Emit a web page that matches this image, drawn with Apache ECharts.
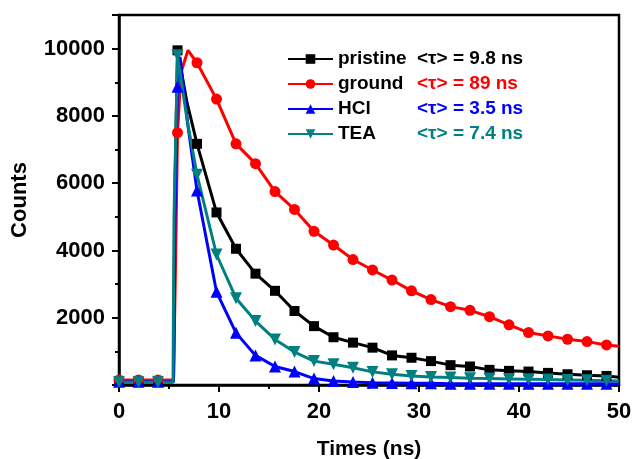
<!DOCTYPE html>
<html>
<head>
<meta charset="utf-8">
<script src="https://cdn.jsdelivr.net/npm/echarts@6/dist/echarts.min.js"></script>
<style>html,body{margin:0;padding:0;background:#fff}#c{width:633px;height:459px}</style>
</head>
<body>
<div id="c"></div>
<script>
// Times (ns) of the marker points
const markerT = [0, 1.95, 3.9, 5.85, 7.8, 9.75, 11.7, 13.65, 15.6, 17.55, 19.5, 21.45, 23.4, 25.35, 27.3, 29.25, 31.2, 33.15, 35.1, 37.05, 39, 40.95, 42.9, 44.85, 46.8, 48.75];

// Marker values (counts)
const pristineV = [100, 100, 100, 9950, 7170, 5130, 4050, 3310, 2800, 2200, 1750, 1420, 1260, 1110, 880, 810, 710, 590, 550, 450, 420, 400, 360, 320, 290, 270];
const groundV   = [150, 150, 150, 7500, 9580, 8500, 7170, 6580, 5750, 5220, 4570, 4160, 3730, 3420, 3120, 2800, 2540, 2330, 2220, 2030, 1790, 1560, 1460, 1360, 1290, 1190];
const hclV      = [100, 100, 100, 8870, 5780, 2770, 1550, 880, 550, 400, 190, 120, 90, 70, 60, 50, 50, 40, 40, 40, 40, 40, 40, 40, 40, 40];
const teaV      = [80, 80, 80, 9800, 6250, 3880, 2580, 1900, 1355, 980, 710, 615, 515, 390, 320, 270, 240, 220, 200, 190, 180, 170, 160, 150, 140, 130];

// Extra line points without markers (rise, peak, end)
const pristineExtraT = [5.45, 5.6, 6.8, 50];
const pristineExtraV = [100, 6000, 8400, 230];
const groundExtraT   = [5.45, 5.65, 6.2, 6.9, 50];
const groundExtraV   = [150, 3500, 9300, 9950, 1150];
const hclExtraT      = [5.45, 5.6, 6.1, 6.9, 50];
const hclExtraV      = [100, 5000, 9750, 7700, 40];
const teaExtraT      = [5.4, 5.5, 6.8, 50];
const teaExtraV      = [80, 5000, 7900, 120];

const names  = ['pristine', 'ground', 'HCl', 'TEA'];
const taus   = ['<τ> = 9.8 ns', '<τ> = 89 ns', '<τ> = 3.5 ns', '<τ> = 7.4 ns'];
const colors = ['#000000', '#ff0000', '#0000ff', '#008080'];
const symbols = ['rect', 'circle', 'triangle', 'path://M0,0 L10,0 L5,9 Z'];
const symSizes = [10, 11, 12, 12];

const xTicks = [0, 10, 20, 30, 40, 50];
const yTicks = [2000, 4000, 6000, 8000, 10000];

function build(markV, exT, exV) {
  const pts = [];
  markerT.forEach((t, i) => pts.push({ value: [t, markV[i]] }));
  exT.forEach((t, i) => pts.push({ value: [t, exV[i]], symbol: 'none' }));
  pts.sort((a, b) => a.value[0] - b.value[0]);
  return pts;
}
const dataSets = [
  build(pristineV, pristineExtraT, pristineExtraV),
  build(groundV, groundExtraT, groundExtraV),
  build(hclV, hclExtraT, hclExtraV),
  build(teaV, teaExtraT, teaExtraV)
];

const FF = 'Arial, "Liberation Sans", sans-serif';
const rich = { n: { width: 79, fontSize: 19, fontWeight: 'bold', color: '#000', fontFamily: FF, lineHeight: 20 } };
colors.forEach((c, i) => { rich['t' + i] = { color: c, fontSize: 19, fontWeight: 'bold', fontFamily: FF, lineHeight: 20 }; });

const chart = echarts.init(document.getElementById('c'), null, { renderer: 'canvas' });
chart.setOption({
  animation: false,
  backgroundColor: '#fff',
  grid: { left: 119, right: 14, top: 15, bottom: 74, containLabel: false, outerBoundsMode: 'none',
    show: true, borderColor: '#000', borderWidth: 2.5, backgroundColor: 'transparent' },
  legend: {
    orient: 'vertical', left: 282, top: 44, itemWidth: 45, itemHeight: 12, itemGap: 5,
    data: names,
    formatter: function (name) { const i = names.indexOf(name); return '{n|' + name + '}{t' + i + '|' + taus[i] + '}'; },
    textStyle: { fontSize: 19, fontWeight: 'bold', fontFamily: FF, color: '#000', lineHeight: 20, rich: rich }
  },
  xAxis: {
    type: 'value', min: 0, max: 50, interval: 10,
    name: 'Times (ns)', nameLocation: 'middle', nameGap: 54,
    nameTextStyle: { fontSize: 21, fontWeight: 'bold', fontFamily: FF, color: '#000' },
    axisLine: { lineStyle: { color: '#000', width: 2.5 } },
    axisTick: { show: true, inside: false, length: 7, lineStyle: { color: '#000', width: 2 } },
    minorTick: { show: true, splitNumber: 2, length: 4, lineStyle: { color: '#000', width: 2 } },
    splitLine: { show: false },
    axisLabel: { fontSize: 22, fontWeight: 'bold', fontFamily: FF, color: '#000', margin: 16,
      formatter: v => xTicks.includes(v) ? String(v) : '' }
  },
  yAxis: {
    type: 'value', min: 0, max: 11000, interval: 2000,
    name: 'Counts', nameLocation: 'middle', nameGap: 88, nameRotate: 90,
    nameTextStyle: { fontSize: 22, fontWeight: 'bold', fontFamily: FF, color: '#000' },
    axisLine: { show: true, lineStyle: { color: '#000', width: 2.5 } },
    axisTick: { show: true, inside: false, length: 7, lineStyle: { color: '#000', width: 2 } },
    minorTick: { show: true, splitNumber: 2, length: 4, lineStyle: { color: '#000', width: 2 } },
    splitLine: { show: false },
    axisLabel: { fontSize: 22, fontWeight: 'bold', fontFamily: FF, color: '#000', margin: 14,
      formatter: v => yTicks.includes(v) ? String(v) : '' }
  },
  series: names.map((n, i) => ({
    name: n, type: 'line', data: dataSets[i],
    symbol: symbols[i], symbolSize: symSizes[i], showSymbol: true,
    lineStyle: { color: colors[i], width: 3 },
    itemStyle: { color: colors[i] },
    clip: true
  }))
});
</script>
</body>
</html>
